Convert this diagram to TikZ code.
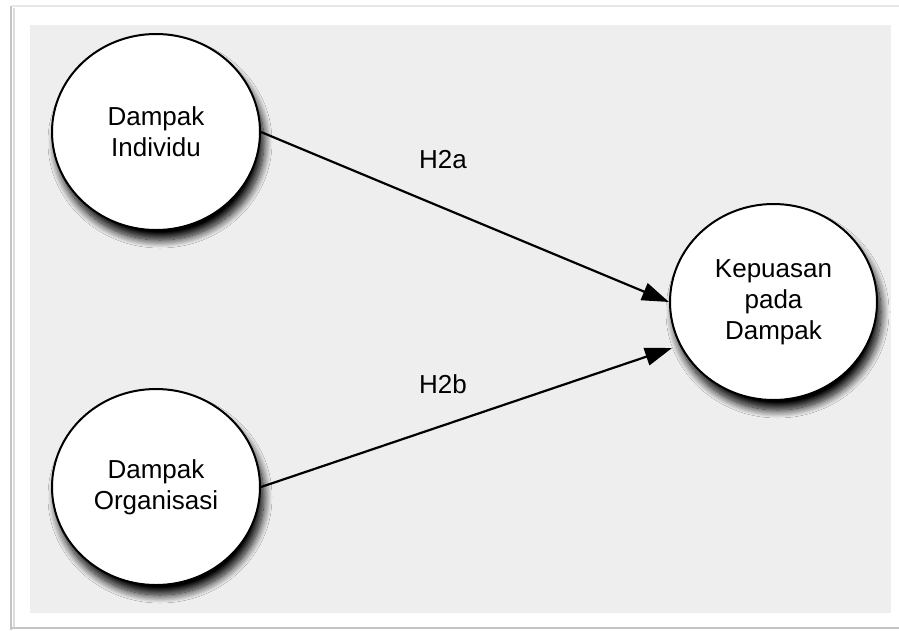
\documentclass[tikz,border=0pt]{standalone}
\usepackage{fontspec}
\setmainfont{Liberation Sans}
\usetikzlibrary{shapes.geometric,arrows.meta,shadows.blur}
\definecolor{panelgray}{HTML}{EEEEEE}
\definecolor{framegray}{HTML}{C4C4C4}
\definecolor{framelight}{HTML}{E6E6E6}
\begin{document}
\begin{tikzpicture}[x=1pt,y=-1pt,
  construct/.style={ellipse,draw=black,line width=2pt,fill=white,
    minimum width=208pt,minimum height=196pt,inner sep=0pt,align=center,
    font=\fontsize{26}{31}\selectfont,
    blur shadow={shadow xshift=4pt,shadow yshift=-10pt,shadow blur radius=8pt,
      shadow blur steps=14,shadow opacity=100}},
  path/.style={line width=2.2pt,-{Triangle[length=27pt,width=18pt]}},
  hyp/.style={font=\fontsize{26}{31}\selectfont,inner sep=0pt}]
% page and frame
\useasboundingbox (0,0) rectangle (899,630);
\fill[white] (0,0) rectangle (899,630);
\draw[framelight,line width=2pt] (12,6) -- (899,6);
\draw[framegray,line width=2.5pt] (11,6) -- (11,630);
\draw[framegray!60,line width=2pt] (14,8) -- (14,628);
\draw[framegray,line width=2pt] (12,628) -- (899,628);
% model panel
\fill[panelgray] (30,25) rectangle (891,613);
% constructs
\node[construct] (ind) at (156,132) {Dampak\\Individu};
\node[construct] (org) at (156,487) {Dampak\\Organisasi};
\node[construct,minimum width=207pt] (sat) at (773.5,302) {Kepuasan\\pada\\Dampak};
\coordinate (tipb) at (672,348);
% paths
\draw[path] (ind.east) -- (sat.west);
\draw[path] (org.east) -- (tipb);
\node[hyp] (h2a) at (443,160) {H2a};
\node[hyp] (h2b) at (443,384) {H2b};
\end{tikzpicture}
\end{document}
